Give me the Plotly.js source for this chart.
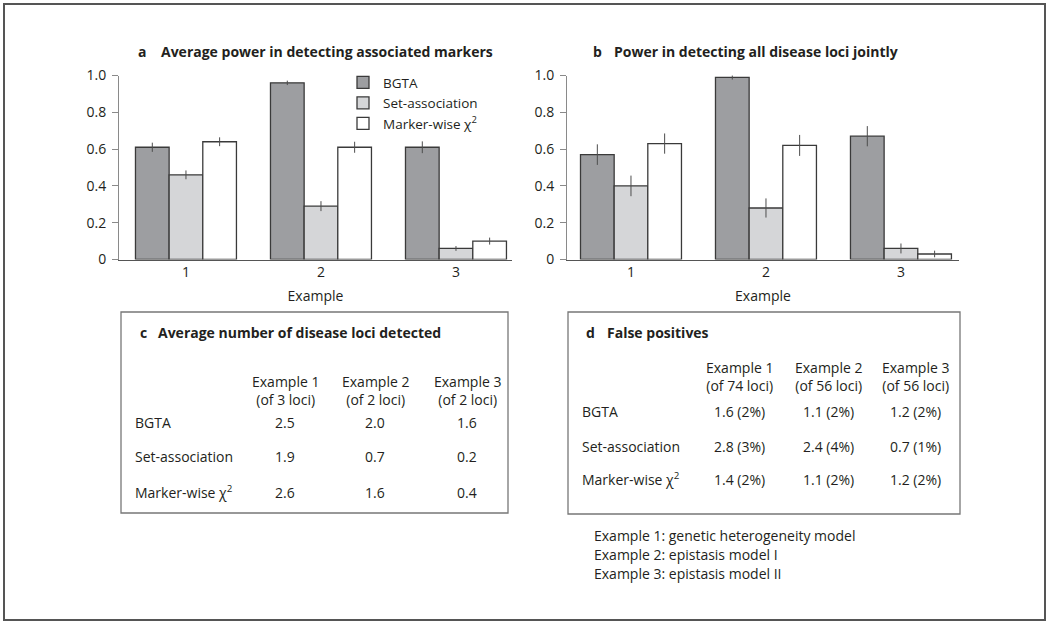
<!DOCTYPE html>
<html>
<head>
<meta charset="utf-8">
<script src="https://cdn.plot.ly/plotly-3.0.1.min.js"></script>
<style>
  html,body{margin:0;padding:0;background:#fff}
  #fig{width:1050px;height:624px}
</style>
</head>
<body>
<div id="fig"></div>
<script>
// ---- data ----
const examples=['1','2','3'];
const methodNames=['BGTA','Set-association','Marker-wise χ<sup>2</sup>'];

// a: average power in detecting associated markers
const powerA_bgta=[0.61,0.96,0.61];
const errA_bgta=[0.025,0.012,0.032];
const powerA_set=[0.46,0.29,0.06];
const errA_set=[0.024,0.027,0.013];
const powerA_chi=[0.64,0.61,0.10];
const errA_chi=[0.024,0.030,0.019];

// b: power in detecting all disease loci jointly
const powerB_bgta=[0.57,0.99,0.67];
const errB_bgta=[0.056,0.012,0.055];
const powerB_set=[0.40,0.28,0.06];
const errB_set=[0.056,0.052,0.027];
const powerB_chi=[0.63,0.62,0.03];
const errB_chi=[0.055,0.057,0.018];

// c: average number of disease loci detected
const lociTotals=[3,2,2];
const lociBGTA=[2.5,2.0,1.6];
const lociSet=[1.9,0.7,0.2];
const lociChi=[2.6,1.6,0.4];

// d: false positives
const fpTotals=[74,56,56];
const fpBGTA=[1.6,1.1,1.2];
const fpBGTApct=[2,2,2];
const fpSet=[2.8,2.4,0.7];
const fpSetPct=[3,4,1];
const fpChi=[1.4,1.1,1.2];
const fpChiPct=[2,2,2];

const footnotes=['Example 1: genetic heterogeneity model','Example 2: epistasis model I','Example 3: epistasis model II'];

// ---- style ----
const W=1050,H=624;
const px=x=>x/W, py=y=>1-y/H;
const FONT='"Open Sans", "Noto Sans", sans-serif';
const INK='#231f20';
const fills=['#9d9ea1','#d5d6d8','#ffffff'];

function barTrace(y,err,i,xa,ya,legend){
  return {
    type:'bar',x:examples,y,name:methodNames[i],
    xaxis:xa,yaxis:ya,showlegend:legend,
    marker:{color:fills[i],line:{color:'#3a3a3a',width:1.3}},
    error_y:{type:'data',array:err,visible:true,color:'#4d4d4d',thickness:1,width:0},
    hoverinfo:'skip'
  };
}

const data=[
  barTrace(powerA_bgta,errA_bgta,0,'x','y',true),
  barTrace(powerA_set,errA_set,1,'x','y',true),
  barTrace(powerA_chi,errA_chi,2,'x','y',true),
  barTrace(powerB_bgta,errB_bgta,0,'x2','y2',false),
  barTrace(powerB_set,errB_set,1,'x2','y2',false),
  barTrace(powerB_chi,errB_chi,2,'x2','y2',false)
];

const yAxisStyle=(dom,anchor)=>({
  domain:dom,range:[0,1],anchor,tickvals:[0,0.2,0.4,0.6,0.8,1.0],ticktext:['0','0.2','0.4','0.6','0.8','1.0'],
  showline:true,linecolor:'#8a8a8a',linewidth:1,ticks:'outside',ticklen:6,tickcolor:'#8a8a8a',
  showgrid:false,zeroline:false,ticklabelstandoff:3,tickfont:{size:14,color:INK,family:FONT},fixedrange:true
});
const xAxisStyle=(dom,range,anchor)=>({
  domain:dom,range,type:'category',anchor,
  showline:true,linecolor:'#555',linewidth:1,ticks:'',showgrid:false,zeroline:false,
  tickfont:{size:14,color:INK,family:FONT},
  title:{text:'Example',font:{size:14,color:INK,family:FONT},standoff:10},fixedrange:true
});
const yDom=[py(259.5),py(75.5)];

const ann=[];
function txt(x,y,text,opts){
  ann.push(Object.assign({xref:'paper',yref:'paper',x:px(x),y:py(y),text,showarrow:false,
    xanchor:'left',yanchor:'middle',font:{size:14,color:INK,family:FONT}},opts||{}));
}
// panel titles
const boldF={size:14,color:INK,family:FONT};
txt(136,51,'<b>a</b>',{font:boldF});
txt(159,51,'<b>Average power in detecting associated markers</b>',{font:boldF});
txt(591,51,'<b>b</b>',{font:boldF});
txt(612,51,'<b>Power in detecting all disease loci jointly</b>',{font:boldF});
txt(138,332,'<b>c</b>',{font:boldF});
txt(156,332,'<b>Average number of disease loci detected</b>',{font:boldF});
txt(584,332,'<b>d</b>',{font:boldF});
txt(605,332,'<b>False positives</b>',{font:boldF});

// table c
const cCols=[285,375,467];
const cRows=[422,457,492];
const plainNames=['BGTA','Set-association','Marker-wise χ<sup>2</sup>'];
lociTotals.forEach((n,j)=>txt(cCols[j],390,`Example ${j+1}<br>(of ${n} loci)`,{xanchor:'center'}));
[lociBGTA,lociSet,lociChi].forEach((row,i)=>{
  txt(133,cRows[i],plainNames[i]);
  row.forEach((v,j)=>txt(cCols[j],cRows[i],v.toFixed(1),{xanchor:'center'}));
});

// table d
const dCols=[739,828,915];
const dRows=[411,446,479];
fpTotals.forEach((n,j)=>txt(dCols[j],376,`Example ${j+1}<br>(of ${n} loci)`,{xanchor:'center'}));
[[fpBGTA,fpBGTApct],[fpSet,fpSetPct],[fpChi,fpChiPct]].forEach(([vals,pcts],i)=>{
  txt(580,dRows[i],plainNames[i]);
  vals.forEach((v,j)=>txt(dCols[j],dRows[i],`${v.toFixed(1)} (${pcts[j]}%)`,{xanchor:'center'}));
});

// footnote
footnotes.forEach((s,i)=>txt(592,535+i*19,s));

const layout={
  width:W,height:H,margin:{l:0,r:0,t:0,b:0},
  paper_bgcolor:'#fff',plot_bgcolor:'rgba(0,0,0,0)',
  font:{family:FONT,color:INK,size:14},
  barmode:'group',bargap:0.252,bargroupgap:0,
  xaxis:xAxisStyle([px(119),px(512)],[-0.496,2.415],'y'),
  yaxis:yAxisStyle(yDom,'x'),
  xaxis2:xAxisStyle([px(567),px(959)],[-0.474,2.43],'y2'),
  yaxis2:yAxisStyle(yDom,'x2'),
  showlegend:true,
  legend:{x:px(343),y:py(67),xanchor:'left',yanchor:'top',bgcolor:'rgba(0,0,0,0)',
    font:{size:13.5,color:INK,family:FONT},tracegroupgap:0,traceorder:'normal',itemclick:false,itemdoubleclick:false},
  annotations:ann,
  shapes:[
    {type:'rect',xref:'paper',yref:'paper',x0:px(4),x1:px(1045),y0:py(620),y1:py(4),line:{color:'#555',width:2}},
    {type:'rect',xref:'paper',yref:'paper',x0:px(121),x1:px(508),y0:py(513),y1:py(312),line:{color:'#777',width:1.3}},
    {type:'rect',xref:'paper',yref:'paper',x0:px(568),x1:px(960),y0:py(514),y1:py(312),line:{color:'#777',width:1.3}}
  ]
};

Plotly.newPlot('fig',data,layout,{displayModeBar:false,staticPlot:true});
</script>
</body>
</html>
